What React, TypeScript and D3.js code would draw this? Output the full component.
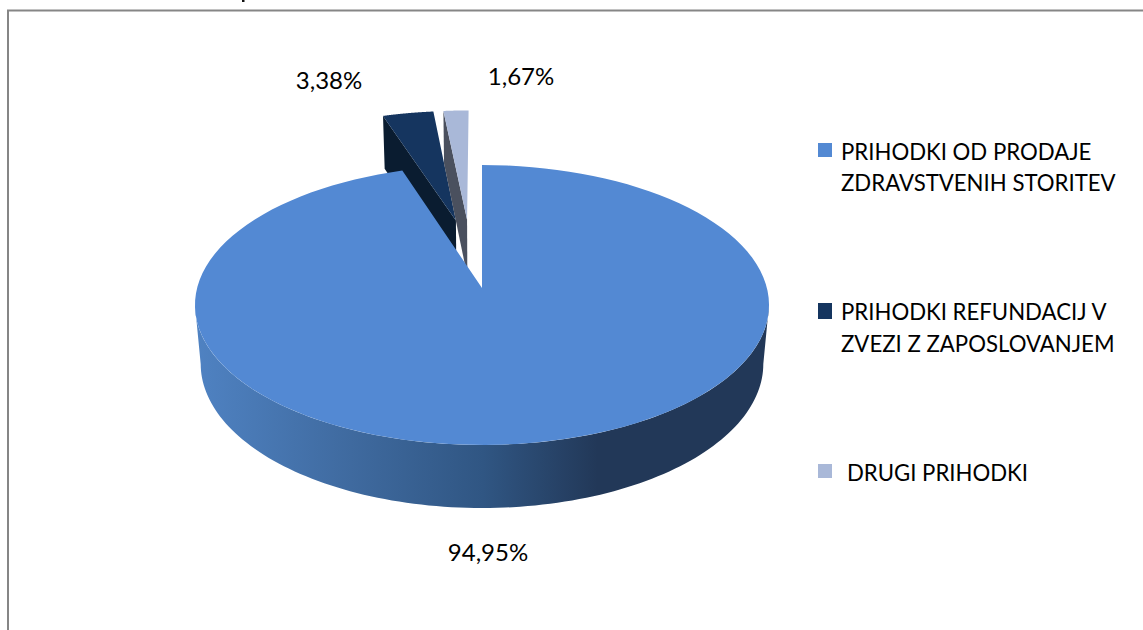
import React from "react";
import * as d3 from "d3";

const categories = ["PRIHODKI OD PRODAJE|ZDRAVSTVENIH STORITEV", "PRIHODKI REFUNDACIJ V|ZVEZI Z ZAPOSLOVANJEM", " DRUGI PRIHODKI"];
const values = [94.95, 3.38, 1.67];
const valueLabels = ["94,95%", "3,38%", "1,67%"];
const topColors = ["#5389d3", "#15355f", "#a9b8d8"];
const cutColors = ["#3f6a9f", "#0a1c30", "#4a505e"];

const W = 1143, H = 630;
const ox = 482, oy = 288, A = 284.9, B = 137.9, k = 0.1214, hz = 0.02, D = 59.8, explode = 0.265;

// Perspective projection of a point on the pie plane (X right, Y far, z down)
function proj(X: number, Y: number, z = 0): [number, number] {
  const w = 1 + k * Y + hz * z;
  return [ox + (A * X) / w, oy - (B * Y - D * z) / w];
}

const pieGen = d3.pie<number>().sort(null).value((d) => d);
const arcs = pieGen(values);
const mainMid = (arcs[0].startAngle + arcs[0].endAngle) / 2;

function offset(i: number): [number, number] {
  if (i === 0) return [0, 0];
  const m = (arcs[i].startAngle + arcs[i].endAngle) / 2;
  return [explode * (Math.sin(m) - Math.sin(mainMid)), explode * (Math.cos(m) - Math.cos(mainMid))];
}

const line = d3.line<[number, number]>();

function rimPts(i: number, a0: number, a1: number, z: number): [number, number][] {
  const [dx, dy] = offset(i);
  return d3.range(0, 121).map((n) => {
    const a = a0 + ((a1 - a0) * n) / 120;
    return proj(dx + Math.sin(a), dy + Math.cos(a), z);
  });
}

function topPath(i: number) {
  const [dx, dy] = offset(i);
  return line([proj(dx, dy), ...rimPts(i, arcs[i].startAngle, arcs[i].endAngle, 0)]) + "Z";
}

function cutPath(i: number, a: number) {
  const [dx, dy] = offset(i);
  return line([proj(dx, dy), proj(dx + Math.sin(a), dy + Math.cos(a)), proj(dx + Math.sin(a), dy + Math.cos(a), 1), proj(dx, dy, 1)]) + "Z";
}

function wallPath() {
  const a0 = Math.PI / 2 + k;
  const a1 = (Math.PI * 3) / 2 - k;
  const t = rimPts(0, a0, a1, 0);
  const b = rimPts(0, a0, a1, 1).reverse();
  return line([...t, ...b]) + "Z";
}

const wallX = d3.scaleLinear().domain([0, 1]).range([196, 770]);

const legendBox: [number, number][] = [[143, 157], [303, 319], [464, 478]];
const lineYs = [[159.5, 191], [320, 352], [481]];
const legendTextX = [841, 841, 847];
const labelPos: [number, number][] = [[488, 561], [329, 89], [521, 85]];

export default function App() {
  const font = "Lato, sans-serif";
  return (
    <svg width={W} height={H} viewBox={`0 0 ${W} ${H}`} style={{ position: "absolute", left: 0, top: 0, background: "#fff" }}>
      <defs>
        <linearGradient id="wall" gradientUnits="userSpaceOnUse" x1={wallX(0)} x2={wallX(1)} y1="0" y2="0">
          <stop offset="0" stopColor="#4f82c2" />
          <stop offset="0.27" stopColor="#3f6a9f" />
          <stop offset="0.5" stopColor="#305683" />
          <stop offset="0.7" stopColor="#223858" />
          <stop offset="1" stopColor="#223858" />
        </linearGradient>
      </defs>
      <path d="M8,630V10.5H1143" fill="none" stroke="#868686" strokeWidth={2} />
      <rect x={242} y={0} width={2.5} height={2} fill="#111" />

      {/* back slices */}
      <path d={cutPath(1, arcs[1].startAngle)} fill={cutColors[1]} />
      <path d={topPath(1)} fill={topColors[1]} />
      <path d={cutPath(2, arcs[2].startAngle)} fill={cutColors[2]} />
      <path d={topPath(2)} fill={topColors[2]} />

      {/* main slice */}
      <path d={wallPath()} fill="url(#wall)" />
      <path d={topPath(0)} fill={topColors[0]} />

      {valueLabels.map((t, i) => (
        <text key={t} x={labelPos[i][0]} y={labelPos[i][1]} textAnchor="middle" fontFamily={font} fontSize={24} fill="#000">{t}</text>
      ))}

      {categories.map((c, i) => (
        <g key={c}>
          <rect x={818} y={legendBox[i][0]} width={14} height={legendBox[i][1] - legendBox[i][0]} fill={topColors[i]} />
          {c.trim().split("|").map((s, j) => (
            <text key={s} x={legendTextX[i]} y={lineYs[i][j]} fontFamily={font} fontSize={22.2} fill="#000">{s}</text>
          ))}
        </g>
      ))}
    </svg>
  );
}
